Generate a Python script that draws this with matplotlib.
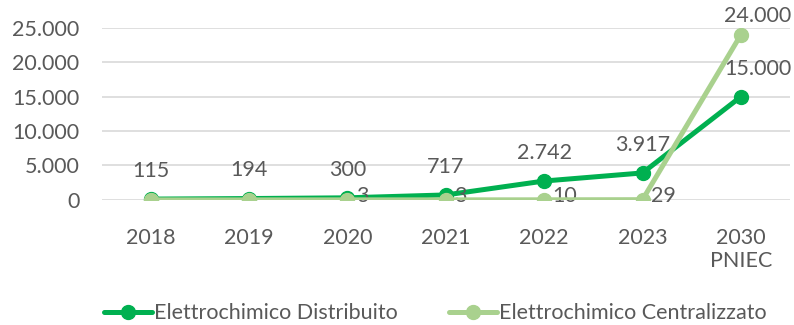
import matplotlib.pyplot as plt

# Capacita di accumulo elettrochimico (MWh)
anni = ['2018', '2019', '2020', '2021', '2022', '2023', '2030\nPNIEC']
distribuito = [115, 194, 300, 717, 2742, 3917, 15000]
centralizzato = [0, 0, 3, 3, 10, 29, 24000]
etichette_centr = [None, None, '3', '3', '10', '29', '24.000']

verde_scuro = '#00B050'
verde_chiaro = '#A9D18E'
grigio = '#595959'

plt.rcParams['font.family'] = ['Lato', 'DejaVu Sans']
fs = 15.5


def fmt(v):
    return f'{v:,.0f}'.replace(',', '.')


fig = plt.figure(figsize=(7.94, 3.25), dpi=100)
ax = fig.add_axes([0.128, 0.385, 0.867, 0.529])

x = list(range(len(anni)))
ax.plot(x, distribuito, color=verde_scuro, lw=3.6, marker='o', ms=10,
        solid_capstyle='round', label='Elettrochimico Distribuito', zorder=3)
ax.plot(x, centralizzato, color=verde_chiaro, lw=3.6, marker='o', ms=10,
        solid_capstyle='round', label='Elettrochimico Centralizzato', zorder=4)

ultimo = len(x) - 1

# etichette serie distribuita: sopra il punto
for xi, v in zip(x, distribuito):
    dx = 12 if xi == ultimo else 0
    ax.annotate(fmt(v), (xi, v), xytext=(dx, 13), textcoords='offset points',
                ha='center', va='bottom', fontsize=fs, color=grigio)

# etichette serie centralizzata: a destra, l'ultima sopra
for xi, v, t in zip(x, centralizzato, etichette_centr):
    if t is None:
        continue
    if xi == ultimo:
        ax.annotate(t, (xi, v), xytext=(12, 6), textcoords='offset points',
                    ha='center', va='bottom', fontsize=fs, color=grigio)
    else:
        ax.annotate(t, (xi, v), xytext=(6, 3), textcoords='offset points',
                    ha='left', va='center', fontsize=fs, color=grigio)

ax.set_xlim(-0.5, len(anni) - 0.5)
ax.set_ylim(0, 25000)
ax.set_yticks(range(0, 25001, 5000))
ax.set_yticklabels([fmt(v) for v in range(0, 25001, 5000)])
ax.set_xticks(x)
ax.set_xticklabels(anni)
ax.tick_params(length=0, labelsize=fs, colors=grigio)
ax.tick_params(axis='x', pad=20)
ax.tick_params(axis='y', pad=16)
ax.grid(axis='y', color='#D9D9D9', lw=1.2)
ax.set_axisbelow(True)
for s in ax.spines.values():
    s.set_visible(False)

ax.legend(loc='center', bbox_to_anchor=(0.485, -0.66), ncol=2, frameon=False,
          fontsize=fs, labelcolor=grigio, handlelength=2.2, handletextpad=0.1,
          columnspacing=2.4)

fig.savefig('out.png', dpi=100)
